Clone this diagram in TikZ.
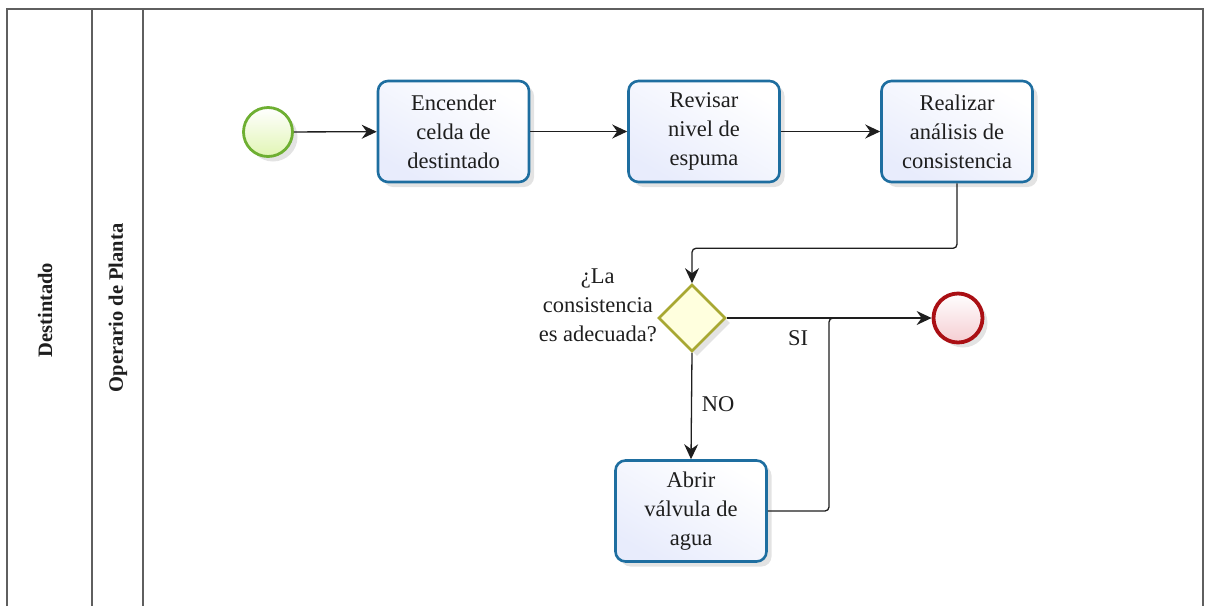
\documentclass[tikz,border=0pt]{standalone}
\usepackage{fontspec}
\setmainfont{Liberation Serif}
\usetikzlibrary{arrows.meta,shapes.geometric,shadows,calc}

\definecolor{taskline}{RGB}{30,110,160}
\definecolor{taskfill}{RGB}{232,236,252}
\definecolor{startline}{RGB}{110,175,50}
\definecolor{startfill}{RGB}{225,245,180}
\definecolor{endline}{RGB}{170,15,20}
\definecolor{endfill}{RGB}{245,205,210}
\definecolor{gwline}{RGB}{168,168,50}
\definecolor{gwfill}{RGB}{255,255,222}
\definecolor{laneline}{RGB}{95,95,95}
\definecolor{ink}{RGB}{30,30,30}

\tikzset{
  lane/.style={draw=laneline, line width=1.6pt},
  lanelabel/.style={rotate=90, font=\fontsize{20.5}{24}\selectfont\bfseries, text=ink},
  shade/.style={drop shadow={opacity=0.22, shadow xshift=5pt, shadow yshift=-5pt}},
  task/.style={draw=taskline, line width=2.6pt, rounded corners=10pt,
    minimum width=151pt, minimum height=101pt, align=center, inner sep=0pt,
    top color=white, bottom color=taskfill, shading angle=-30, shade,
    font=\fontsize{22.5}{29}\selectfont, text=ink},
  startev/.style={circle, draw=startline, line width=2.8pt, minimum size=49pt,
    inner sep=0pt, top color=white, bottom color=startfill, shade},
  endev/.style={circle, draw=endline, line width=3.8pt, minimum size=49pt,
    inner sep=0pt, top color=white, bottom color=endfill, shade},
  gateway/.style={diamond, draw=gwline, line width=2.6pt, minimum width=67pt,
    minimum height=67pt, inner sep=0pt, fill=gwfill, shade},
  flow/.style={draw=ink, line width=1.3pt, rounded corners=4pt,
    -{Stealth[length=15pt,width=14pt,inset=5pt]}},
  plain/.style={draw=ink, line width=1.3pt, rounded corners=4pt},
  lbl/.style={font=\fontsize{22.5}{29}\selectfont, text=ink, align=center, inner sep=0pt},
}

\begin{document}
\begin{tikzpicture}[x=1pt, y=-1pt]
\useasboundingbox (0,0) rectangle (1206,606);

% pool frame and lane dividers
\draw[lane] (7,606) -- (7,9) -- (1203,9) -- (1203,606);
\draw[lane] (92,9) -- (92,606);
\draw[lane] (143,9) -- (143,606);
\node[lanelabel] (pool) at (45,310) {Destintado};
\node[lanelabel] (role) at (118,308) {Operario de Planta};

% events, tasks and gateway
\node[startev] (start) at (268,132) {};
\node[task] (t1) at (453.5,131.5) {Encender\\celda de\\destintado};
\node[task] (t2) at (704,131.5) {Revisar\\nivel de\\espuma};
\node[task] (t3) at (957,131.5) {Realizar\\análisis de\\consistencia};
\node[gateway] (gw) at (692,318) {};
\node[endev] (end) at (958,318) {};
\node[task] (t4) at (691,511) {Abrir\\válvula de\\agua};

\node[lbl, anchor=east] (q) at (657,305) {¿La\\consistencia\\es adecuada?};

% sequence flows
\draw[flow] (start) -- (t1);
\draw[flow] (t1) -- (t2);
\draw[flow] (t2) -- (t3);
\draw[flow] (t3.south) -- ++(0,65) -| (gw.north);
\draw[flow] (gw.east) -- (end.west);
\draw[flow] (gw.south) -- (t4.north);
\coordinate (merge) at (829,318);
\draw[plain] (t4.east) -| (merge) -- ++(8,0);

\node[lbl] (si) at (798,338) {SI};
\node[lbl] (no) at (718,404) {NO};
\end{tikzpicture}
\end{document}
